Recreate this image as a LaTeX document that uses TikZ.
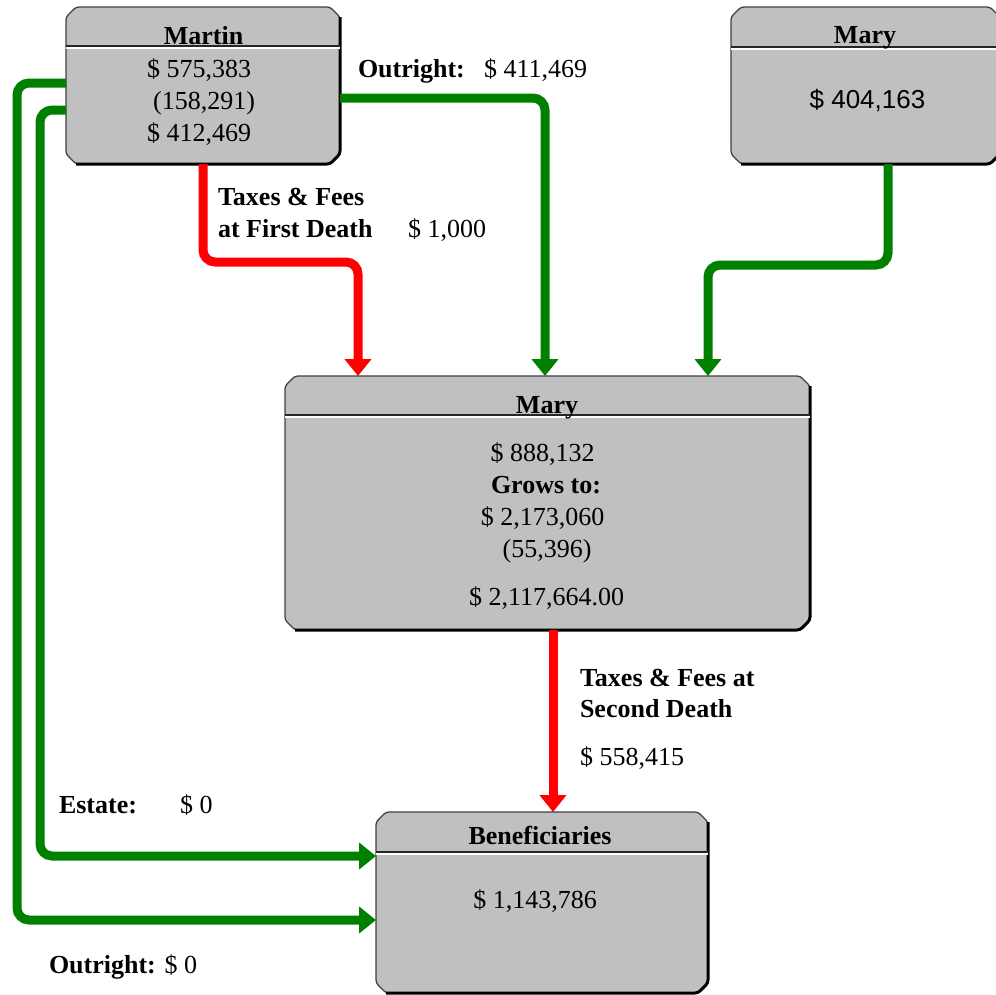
\documentclass[tikz,border=0pt]{standalone}
\usepackage{fontspec}
\setmainfont{Liberation Serif}
\newfontfamily\arialf{Liberation Sans}
\usetikzlibrary{arrows.meta}
\definecolor{boxgray}{HTML}{C0C0C0}
\definecolor{flowgreen}{HTML}{008000}
\definecolor{flowred}{HTML}{FF0000}
\tikzset{
  boxnode/.style={rectangle, inner sep=0pt, outer sep=0pt},
  txt/.style={inner sep=0pt, outer sep=0pt, anchor=base, font=\fontsize{26}{32}\selectfont},
  lbl/.style={txt, anchor=base west},
  flow/.style={line width=9pt, rounded corners=12pt, -{Triangle[width=26pt,length=17pt]}},
  gflow/.style={flow, draw=flowgreen, color=flowgreen},
  rflow/.style={flow, draw=flowred, color=flowred, rounded corners=12pt},
}
\newcommand\chambox[2]{%
  \draw[fill=boxgray, draw=black!75, line width=1.3pt, rounded corners=3pt]
    ([xshift=10pt]#1.north west) -- ([xshift=-10pt]#1.north east) -- ([yshift=-10pt]#1.north east)
    -- ([yshift=10pt]#1.south east) -- ([xshift=-10pt]#1.south east) -- ([xshift=10pt]#1.south west)
    -- ([yshift=10pt]#1.south west) -- ([yshift=-10pt]#1.north west) -- cycle;
  \draw[black, line width=3pt, rounded corners=3pt]
    ([yshift=-10pt]#1.north east) -- ([yshift=10pt]#1.south east) -- ([xshift=-10pt]#1.south east) -- ([xshift=10pt]#1.south west);
  \draw[black!85, line width=1.6pt] ([yshift=-#2]#1.north west) -- ([yshift=-#2]#1.north east);
  \draw[white, line width=1.2pt] ([yshift=-#2-2pt]#1.north west) -- ([yshift=-#2-2pt]#1.north east);
}
\begin{document}
\begin{tikzpicture}[x=1pt,y=-1pt]
\useasboundingbox[fill=white] (0,0) rectangle (996,994);

% box nodes
\node[boxnode, minimum width=274pt, minimum height=157pt] (martin) at (203,85.5) {};
\node[boxnode, minimum width=269pt, minimum height=157pt] (marytop) at (865.5,85.5) {};
\node[boxnode, minimum width=525pt, minimum height=254pt] (mary) at (547.5,503) {};
\node[boxnode, minimum width=332pt, minimum height=181pt] (benef) at (542,902.5) {};

\chambox{martin}{39pt}
\chambox{marytop}{40pt}
\chambox{mary}{39pt}
\chambox{benef}{40pt}

% box texts
\node[txt, font=\fontsize{26}{32}\selectfont\bfseries] (martin-t) at (203.5,44) {Martin};
\node[txt] (martin-1) at (199,77) {\$ 575,383};
\node[txt] (martin-2) at (204,109) {(158,291)};
\node[txt] (martin-3) at (199,141) {\$ 412,469};

\node[txt, font=\fontsize{26}{32}\selectfont\bfseries] (marytop-t) at (865,43) {Mary};
\node[txt, font=\fontsize{26}{32}\selectfont\arialf] (marytop-1) at (867.5,108) {\$ 404,163};

\node[txt, font=\fontsize{26}{32}\selectfont\bfseries] (mary-t) at (547,413) {Mary};
\node[txt] (mary-1) at (542.5,461) {\$ 888,132};
\node[txt, font=\fontsize{26}{32}\selectfont\bfseries] (mary-2) at (546,493) {Grows to:};
\node[txt] (mary-3) at (542.5,525) {\$ 2,173,060};
\node[txt] (mary-4) at (547,557) {(55,396)};
\node[txt] (mary-5) at (546.7,605) {\$ 2,117,664.00};

\node[txt, font=\fontsize{26}{32}\selectfont\bfseries] (benef-t) at (540,844) {Beneficiaries};
\node[txt] (benef-1) at (535,908) {\$ 1,143,786};

% flows
\draw[gflow] ([yshift=-12.5pt]martin.east) -| ([xshift=-2.5pt]mary.north);
\draw[rflow] (martin.south) -- ++(0,98) -| ([xshift=-189.5pt]mary.north);
\draw[gflow] ([xshift=22.5pt]marytop.south) -- ++(0,101) -| ([xshift=160.5pt]mary.north);
\draw[rflow] ([xshift=5.5pt]mary.south) -- ([xshift=11pt]benef.north);
\draw[gflow] ([yshift=2.5pt]martin.west) -| (17,920) -- ([yshift=-17.5pt]benef.west);
\draw[gflow] ([yshift=-24.5pt]martin.west) -| (40,856) -- ([yshift=46.5pt]benef.west);

% labels
\node[lbl, font=\fontsize{26}{32}\selectfont\bfseries] (out1) at (358,77) {Outright:};
\node[lbl] (out1v) at (484,77) {\$ 411,469};
\node[lbl, font=\fontsize{26}{32}\selectfont\bfseries] (tax1a) at (218,205) {Taxes \& Fees};
\node[lbl, font=\fontsize{26}{32}\selectfont\bfseries] (tax1b) at (218,237) {at First Death};
\node[lbl] (tax1v) at (408,237) {\$ 1,000};
\node[lbl, font=\fontsize{26}{32}\selectfont\bfseries] (tax2a) at (580,686) {Taxes \& Fees at};
\node[lbl, font=\fontsize{26}{32}\selectfont\bfseries] (tax2b) at (580,717) {Second Death};
\node[lbl] (tax2v) at (580,765) {\$ 558,415};
\node[lbl, font=\fontsize{26}{32}\selectfont\bfseries] (estate) at (59,813) {Estate:};
\node[lbl] (estatev) at (180,813) {\$ 0};
\node[lbl] (out2) at (49,973) {\textbf{Outright:} \$ 0};
\end{tikzpicture}
\end{document}
